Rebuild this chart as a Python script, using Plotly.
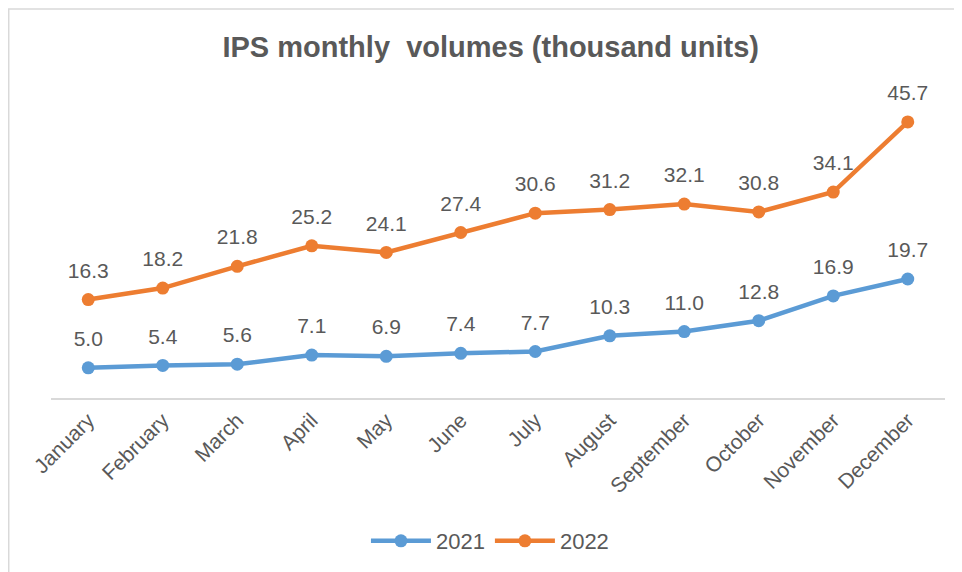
import plotly.graph_objects as go

months = ["January", "February", "March", "April", "May", "June", "July",
          "August", "September", "October", "November", "December"]
vol_2021 = [5.0, 5.4, 5.6, 7.1, 6.9, 7.4, 7.7, 10.3, 11.0, 12.8, 16.9, 19.7]
vol_2022 = [16.3, 18.2, 21.8, 25.2, 24.1, 27.4, 30.6, 31.2, 32.1, 30.8, 34.1, 45.7]

TEXT = "#595959"
FONT = "Liberation Sans, Arial, sans-serif"

fig = go.Figure()
for name, vals, color in [("2021", vol_2021, "#5B9BD5"), ("2022", vol_2022, "#ED7D31")]:
    fig.add_trace(go.Scatter(
        x=months, y=vals, name=name,
        mode="lines+markers",
        line=dict(color=color, width=4.5),
        marker=dict(color=color, size=13),
    ))
    # data labels: invisible larger markers push the text a bit higher
    fig.add_trace(go.Scatter(
        x=months, y=vals, name=name, showlegend=False, hoverinfo="skip",
        mode="markers+text",
        marker=dict(color=color, size=25, opacity=0),
        texttemplate="%{y:.1f}",
        textposition="top center",
        textfont=dict(size=21, color=TEXT, family=FONT),
        cliponaxis=False,
    ))

# page body has an 8px margin, so the figure is 954x564 and offset by 8px
fig.update_layout(
    width=954, height=564,
    margin=dict(l=43, r=17, t=88, b=174, autoexpand=False),
    paper_bgcolor="white", plot_bgcolor="white",
    font=dict(family=FONT, color=TEXT, size=21),
    title=dict(text="<b>IPS monthly  volumes (thousand units)</b>",
               x=0.506, xanchor="center", y=0.931, yanchor="middle",
               font=dict(size=29, color=TEXT, family=FONT)),
    legend=dict(orientation="h", x=0.491, xanchor="center", y=-0.4735, yanchor="middle",
                font=dict(size=22, color=TEXT), itemwidth=60),
    showlegend=True,
)
fig.update_xaxes(showline=True, linecolor="#D9D9D9", linewidth=1.5, showgrid=False,
                 tickangle=-45, ticks="", automargin=False, range=[-0.5, 11.5],
                 tickfont=dict(size=21, color=TEXT))
fig.update_yaxes(range=[0, 50], visible=False, showgrid=False, zeroline=False,
                 automargin=False)

# chart border (extends past right/bottom edges like the reference)
fig.add_shape(type="rect", xref="paper", yref="paper",
              x0=-0.0473, x1=1.03, y0=-0.62, y1=1.288,
              line=dict(color="#D9D9D9", width=1.5), layer="below")

fig.write_html("out.html")
